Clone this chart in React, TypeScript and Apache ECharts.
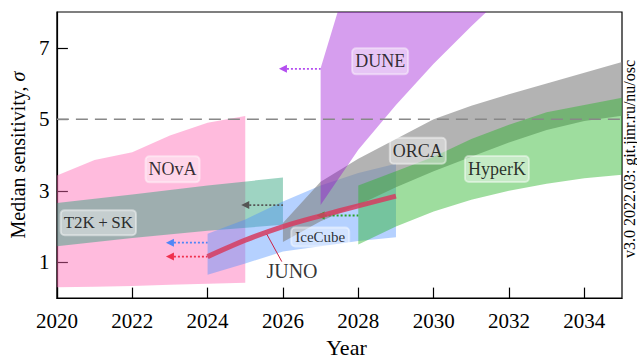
import React, { useEffect, useRef } from "react";
import * as echarts from "echarts";

const FONT = "Liberation Serif";

// Sensitivity bands: year grid, lower and upper edge (sigma)
const novaYears = [2020, 2021, 2022, 2023, 2024, 2025];
const novaLow = [0.3, 0.32, 0.34, 0.37, 0.4, 0.43];
const novaHigh = [3.43, 3.86, 4.08, 4.55, 4.9, 5.09];

const t2kYears = [2020, 2022, 2024, 2026];
const t2kLow = [1.45, 1.68, 1.88, 2.05];
const t2kHigh = [2.66, 2.9, 3.15, 3.37];

const iceYears = [2024, 2025, 2026, 2027, 2028, 2029];
const iceLow = [0.65, 0.97, 1.3, 1.45, 1.6, 1.7];
const iceHigh = [1.8, 2.2, 2.7, 3.15, 3.5, 3.76];

const orcaYears = [2026, 2027, 2028, 2029, 2030, 2031, 2032, 2033, 2034, 2035];
const orcaLow = [1.57, 2.15, 2.6, 3.1, 3.55, 3.95, 4.35, 4.7, 4.95, 5.1];
const orcaHigh = [2.1, 3.25, 3.9, 4.45, 5.0, 5.38, 5.7, 6.0, 6.3, 6.6];

const duneYears = [2027, 2028, 2029, 2030, 2031, 2032];
const duneLow = [2.6, 4.15, 5.4, 6.55, 7.6, 8.6];
const duneHigh = [6.43, 9.9, 12, 13, 14, 15];

const hyperkYears = [2028, 2029, 2030, 2031, 2032, 2033, 2034, 2035];
const hyperkLow = [1.5, 2.0, 2.42, 2.75, 3.0, 3.2, 3.35, 3.45];
const hyperkHigh = [3.15, 3.55, 3.95, 4.45, 4.85, 5.2, 5.4, 5.6];

// JUNO median sensitivity curve
const junoYears = [2024, 2025, 2026, 2027, 2028, 2029];
const junoMedian = [1.16, 1.62, 2.0, 2.3, 2.58, 2.85];

// Start markers: [from year, to year, sigma, colour]
const startMarkers: [number, number, number, string][] = [
  [2023, 2024, 1.16, "#f0304e"],
  [2023, 2024, 1.55, "#4f86f7"],
  [2025, 2026, 2.6, "#555555"],
  [2026, 2027, 6.41, "#b44ef0"],
  [2027, 2028, 2.31, "#28a428"],
];

// Experiment labels: [name, year, sigma, font size]
const experimentLabels: [string, number, number, number][] = [
  ["NOvA", 2023.07, 3.6, 18],
  ["T2K\u2009+\u2009SK", 2021.1, 2.11, 17],
  ["DUNE", 2028.58, 6.62, 18],
  ["ORCA", 2029.58, 4.12, 18],
  ["HyperK", 2031.68, 3.61, 18],
  ["IceCube", 2026.99, 1.71, 15],
];

const xTicks = [2020, 2022, 2024, 2026, 2028, 2030, 2032, 2034];
const yTicks = [1, 3, 5, 7];
const fiveSigma = 5;

function band(name: string, xs: number[], lo: number[], hi: number[], fill: string, z: number) {
  return {
    type: "custom",
    name,
    clip: true,
    silent: true,
    z,
    data: xs.map((x, i) => [x, lo[i], hi[i]]),
    encode: { x: 0, y: [1, 2] },
    renderItem: (params: any, api: any) => {
      if (params.dataIndex !== 0) return null;
      const top = xs.map((x, i) => api.coord([x, hi[i]]));
      const bottom = xs.map((x, i) => api.coord([x, lo[i]])).reverse();
      return {
        type: "polygon",
        shape: { points: top.concat(bottom) },
        style: { fill },
      };
    },
  };
}

export default function App() {
  const ref = useRef<HTMLDivElement>(null);

  useEffect(() => {
    if (!ref.current) return;
    const chart = echarts.init(ref.current, undefined, { renderer: "svg" });

    const markerSeries = startMarkers.map(([x0, x1, y, c]) => ({
      type: "line",
      silent: true,
      z: 8,
      data: [{ value: [x0, y] }, { value: [x1, y], symbol: "none" }],
      symbol: "triangle",
      symbolRotate: 90,
      symbolSize: [8, 8],
      itemStyle: { color: c },
      lineStyle: { color: c, width: 1.8, type: [2, 2] },
    }));

    chart.setOption({
      animation: false,
      grid: {
        left: 49.5,
        right: 15,
        top: 12,
        bottom: 57.3,
        show: true,
        borderColor: "#000",
        borderWidth: 1.2,
        backgroundColor: "transparent",
      },
      xAxis: {
        type: "value",
        min: 2020,
        max: 2035,
        name: "Year",
        nameLocation: "middle",
        nameGap: 37.5,
        nameTextStyle: { fontFamily: FONT, fontSize: 22, color: "#000", padding: [0, 0, 0, 14] },
        axisLine: { show: true, lineStyle: { color: "#000", width: 1.2 } },
        axisTick: { show: true, inside: true, length: 10.5, customValues: xTicks, lineStyle: { color: "#000", width: 1.2 } },
        axisLabel: {
          customValues: xTicks,
          formatter: (v: number) => String(v),
          fontFamily: FONT,
          fontSize: 21,
          color: "#000",
          margin: 12,
        },
        splitLine: { show: false },
      },
      yAxis: {
        type: "value",
        min: 0,
        max: 8,
        name: "Median sensitivity, {i|σ}",
        nameLocation: "middle",
        nameGap: 22,
        nameTextStyle: {
          fontFamily: FONT,
          fontSize: 20,
          color: "#000",
          rich: { i: { fontFamily: FONT, fontSize: 20, fontStyle: "italic", color: "#000" } },
        },
        axisLine: { show: true, lineStyle: { color: "#000", width: 1.2 } },
        axisTick: { show: true, inside: true, length: 11, customValues: yTicks, lineStyle: { color: "#000", width: 1.2 } },
        axisLabel: {
          customValues: yTicks,
          formatter: (v: number) => String(v),
          fontFamily: FONT,
          fontSize: 21,
          color: "#000",
          margin: 7.5,
        },
        splitLine: { show: false },
      },
      series: [
        band("NOvA", novaYears, novaLow, novaHigh, "rgba(255,105,180,0.45)", 1),
        band("T2K+SK", t2kYears, t2kLow, t2kHigh, "rgba(40,160,120,0.45)", 2),
        band("IceCube", iceYears, iceLow, iceHigh, "rgba(70,140,255,0.4)", 3),
        band("ORCA", orcaYears, orcaLow, orcaHigh, "rgba(128,128,128,0.6)", 4),
        band("DUNE", duneYears, duneLow, duneHigh, "rgba(148,0,211,0.38)", 5),
        band("HyperK", hyperkYears, hyperkLow, hyperkHigh, "rgba(40,180,40,0.45)", 6),
        {
          type: "line",
          silent: true,
          z: 7,
          data: [[2020, fiveSigma], [2035, fiveSigma]],
          symbol: "none",
          lineStyle: { color: "#888", width: 1.5, type: [12, 7] },
        },
        {
          type: "line",
          name: "JUNO",
          silent: true,
          z: 9,
          smooth: 0.3,
          data: junoYears.map((x, i) => [x, junoMedian[i]]),
          symbol: "none",
          lineStyle: { color: "rgba(214,60,95,0.85)", width: 5 },
        },
        {
          type: "line",
          silent: true,
          z: 9,
          data: [[2025.57, 1.79], [2025.97, 1.02]],
          symbol: "none",
          lineStyle: { color: "#cc2244", width: 1 },
        },
        ...markerSeries,
        {
          type: "scatter",
          silent: true,
          z: 10,
          symbolSize: 0,
          data: [
            ...experimentLabels.map(([name, x, y, fs]) => ({
              name,
              value: [x, y],
              label: {
                show: true,
                position: "inside",
                formatter: "{b}",
                fontFamily: FONT,
                fontSize: fs,
                lineHeight: fs,
                color: "#000",
                backgroundColor: "rgba(255,255,255,0.5)",
                borderColor: "rgba(255,255,255,0.55)",
                borderWidth: 1,
                borderRadius: 4,
                padding: fs < 16 ? [2, 4, 2, 4] : [4, 3, 4, 3],
              },
            })),
            {
              name: "JUNO",
              value: [2026.24, 0.76],
              label: {
                show: true,
                position: "inside",
                formatter: "{b}",
                fontFamily: FONT,
                fontSize: 20,
                color: "#000",
              },
            },
          ],
        },
      ],
      graphic: [
        {
          type: "text",
          x: 629,
          y: 159,
          rotation: Math.PI / 2,
          silent: true,
          style: {
            text: "v3.0 2022.03: git.jinr.ru/nu/osc",
            fontFamily: FONT,
            fontSize: 16,
            fill: "#000",
            align: "center",
            verticalAlign: "middle",
          },
        },
      ],
    });

    return () => chart.dispose();
  }, []);

  return (
    <div
      ref={ref}
      style={{ position: "absolute", left: 0, top: 0, width: 637, height: 363, background: "#fff" }}
    />
  );
}
